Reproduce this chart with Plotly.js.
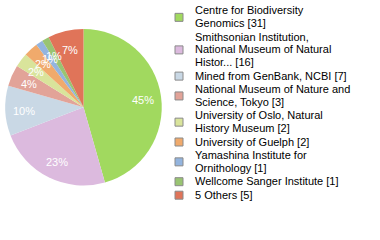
<!DOCTYPE html>
<html><head><meta charset="utf-8">
<script src="https://cdn.plot.ly/plotly-3.0.1.min.js"></script>
<style>html,body{margin:0;padding:0;background:#fff}#chart{width:380px;height:240px}</style>
</head><body><div id="chart"></div>
<script>
var labelLines = [
  ["Centre for Biodiversity", "Genomics [31]"],
  ["Smithsonian Institution,", "National Museum of Natural", "Histor... [16]"],
  ["Mined from GenBank, NCBI [7]"],
  ["National Museum of Nature and", "Science, Tokyo [3]"],
  ["University of Oslo, Natural", "History Museum [2]"],
  ["University of Guelph [2]"],
  ["Yamashina Institute for", "Ornithology [1]"],
  ["Wellcome Sanger Institute [1]"],
  ["5 Others [5]"]
];
var values = [31, 16, 7, 3, 2, 2, 1, 1, 5];
var colors = ["#a1d95f", "#dcbade", "#c9d8e5", "#e2a398", "#d9e49b", "#f0aa6c", "#93b4de", "#99c472", "#e07459"];

var W = 380, H = 240;
var total = values.reduce(function(a,b){return a+b;},0);
var pctText = values.map(function(v){return Math.floor(v/total*100)+"%";});
var labels = labelLines.map(function(l){return l.join(" ");});

var dom = {x: [0.0132, 0.4263], y: [0.2271, 0.8792]};

var data = [{
  type: "pie",
  labels: labels,
  values: values,
  textinfo: "none",
  sort: false,
  direction: "clockwise",
  rotation: 0,
  marker: {colors: colors, line: {color: "#ffffff", width: 0}},
  hoverinfo: "none",
  showlegend: false,
  domain: dom
}];

var shapes = [], annotations = [];

// percentage labels placed along each slice's bisector (derived from the values)
var cx = (dom.x[0] + dom.x[1]) / 2 * W;
var cy = (1 - (dom.y[0] + dom.y[1]) / 2) * H;
var R = Math.min((dom.x[1] - dom.x[0]) * W, (dom.y[1] - dom.y[0]) * H) / 2;
var cum = 0;
values.forEach(function(v, i){
  var a = (cum + v/2) / total * 2 * Math.PI;
  cum += v;
  var px = cx + 0.765 * R * Math.sin(a);
  var py = cy - 0.765 * R * Math.cos(a) + 1;
  annotations.push({
    xref: "paper", yref: "paper", x: px / W, y: 1 - py / H,
    xanchor: "center", yanchor: "middle", showarrow: false,
    text: pctText[i],
    font: {size: 11, family: "Liberation Sans, Arial, sans-serif", color: "#ffffff"}
  });
});

// manual legend built from the arrays
var lineGap = 12.7, entryGap = 13.5, y = 10.5;
labelLines.forEach(function(lines, i){
  var first = y;
  lines.forEach(function(t, j){
    annotations.push({
      xref: "paper", yref: "paper", x: 193/W, y: 1 - y/H,
      xanchor: "left", yanchor: "middle", showarrow: false,
      text: t, align: "left",
      font: {size: 11, family: "Liberation Sans, Arial, sans-serif", color: "#000000"}
    });
    if (j < lines.length - 1) y += lineGap;
  });
  var mid = (first + y)/2 + 0.5;
  shapes.push({
    type: "rect", xref: "paper", yref: "paper",
    x0: 175/W, x1: 183/W, y0: 1 - (mid - 4)/H, y1: 1 - (mid + 4)/H,
    fillcolor: colors[i], line: {color: "#8a8a8a", width: 1}
  });
  y += entryGap;
});

var layout = {
  width: W, height: H,
  margin: {l: 0, r: 0, t: 0, b: 0},
  paper_bgcolor: "#ffffff",
  showlegend: false,
  shapes: shapes,
  annotations: annotations
};
Plotly.newPlot("chart", data, layout, {staticPlot: true});
</script></body></html>
